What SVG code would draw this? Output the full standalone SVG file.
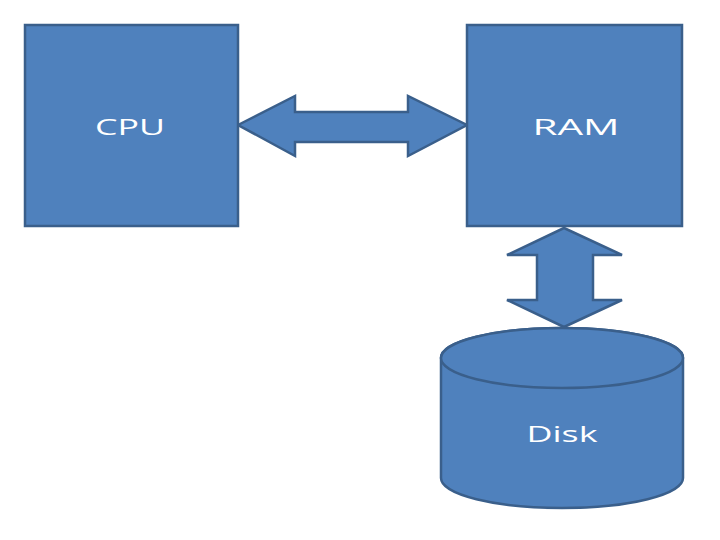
<svg xmlns="http://www.w3.org/2000/svg" width="720" height="540" viewBox="0 0 720 540">
<style>
.s{fill:#4F81BD;stroke:#3A5F8B;stroke-width:2.5;stroke-linejoin:miter}
.t{fill:#FFFFFF;font-family:"Open Sans","Liberation Sans",sans-serif;font-size:21px;text-anchor:middle}
</style>
<rect width="720" height="540" fill="#FFFFFF"/>
<g id="connectors">
<path class="s" d="M238,125 L295,96 L295,112 L408,112 L408,96 L467,125 L408,156 L408,142 L295,142 L295,156 Z"/>
<path class="s" d="M564,228 L622,255 L593,255 L593,300 L622,300 L564,327 L507,300 L537,300 L537,255 L507,255 Z"/>
</g>
<g id="cpu">
<rect class="s" x="25" y="25" width="213" height="201"/>
<text class="t" x="130" y="135" textLength="70" lengthAdjust="spacingAndGlyphs">CPU</text>
</g>
<g id="ram">
<rect class="s" x="467" y="25" width="215" height="201"/>
<text class="t" x="576" y="135" textLength="87" lengthAdjust="spacingAndGlyphs">RAM</text>
</g>
<g id="disk">
<path class="s" d="M441,358 L441,478 A121,30 0 0 0 683,478 L683,358 A121,30 0 0 0 441,358 Z"/>
<ellipse class="s" cx="562" cy="358" rx="121" ry="30"/>
<text class="t" x="562" y="442" textLength="71" lengthAdjust="spacingAndGlyphs">Disk</text>
</g>
</svg>
